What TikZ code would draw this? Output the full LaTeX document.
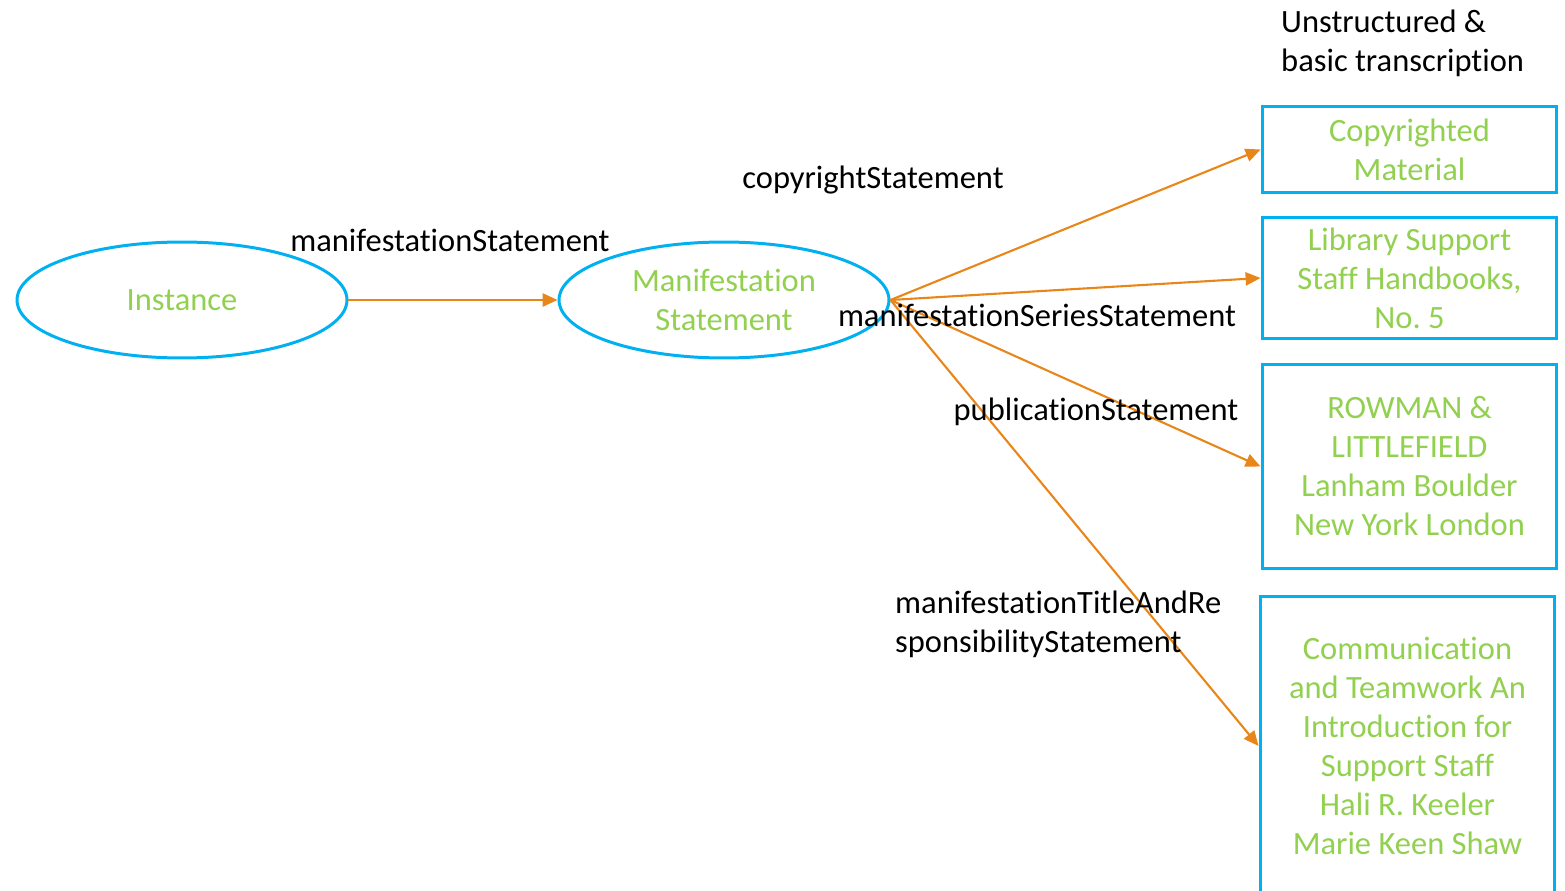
\documentclass[tikz,border=0pt]{standalone}
\usepackage{fontspec}
\setmainfont{Carlito}[Ligatures=NoCommon]
\usetikzlibrary{arrows.meta, shapes.geometric}
\definecolor{lineblue}{RGB}{0,176,240}
\definecolor{textgreen}{RGB}{146,208,80}
\definecolor{arroworange}{RGB}{232,134,26}
\frenchspacing

\begin{document}
\begin{tikzpicture}[x=0.02cm, y=-0.02cm,
        every node/.style={font=\fontsize{18.5}{22.2}\selectfont},
        classnode/.style={draw=lineblue, line width=1.7pt, ellipse, minimum width=6.6cm,
            minimum height=2.32cm, inner sep=0pt, text=textgreen, align=center},
        valuebox/.style={draw=lineblue, line width=1.7pt, rectangle, minimum width=5.9cm,
            inner sep=0pt, text=textgreen, align=center},
        proparrow/.style={draw=arroworange, line width=1.2pt,
            -{Triangle[length=8.5pt, width=7.5pt]}}]
        \useasboundingbox (0,0) rectangle (1565,891);
        \clip (0,0) rectangle (1565,891);
        % classes
        \node[classnode] (inst) at (182,300) {Instance};
        \node[classnode] (mstmt) at (724,300) {Manifestation\\Statement};
        % transcribed values
        \node[valuebox, minimum height=1.72cm] (copy) at (1409.5,149.5) {Copyrighted\\Material};
        \node[valuebox, minimum height=2.44cm] (series) at (1409.5,278) {Library Support\\Staff Handbooks,\\No. 5};
        \node[valuebox, minimum height=4.08cm] (pub) at (1409.5,466.5) {ROWMAN \&\\LITTLEFIELD\\Lanham Boulder\\New York London};
        \node[valuebox, minimum height=6.0cm] (title) at (1407.5,746) {Communication\\and Teamwork An\\Introduction for\\Support Staff\\Hali R. Keeler\\Marie Keen Shaw};
        \node[anchor=west, align=left] (head) at (1275,43) {Unstructured \&\\basic transcription};
        % properties
        \draw[proparrow] (inst.east) -- (mstmt.west);
        \draw[proparrow] (mstmt.east) -- (copy.west);
        \draw[proparrow] (mstmt.east) -- (series.west);
        \draw[proparrow] (mstmt.east) -- (pub.west);
        \draw[proparrow] (mstmt.east) -- (title.west);
        \node (lmstmt) at (450,240) {manifestationStatement};
        \node (lcopy) at (873,180) {copyrightStatement};
        \node (lseries) at (1037,315.5) {manifestationSeriesStatement};
        \node (lpub) at (1096,411.5) {publicationStatement};
        \node[anchor=west, align=left] (ltitle) at (889,624) {manifestationTitleAndRe\\sponsibilityStatement};
\end{tikzpicture}
\end{document}
